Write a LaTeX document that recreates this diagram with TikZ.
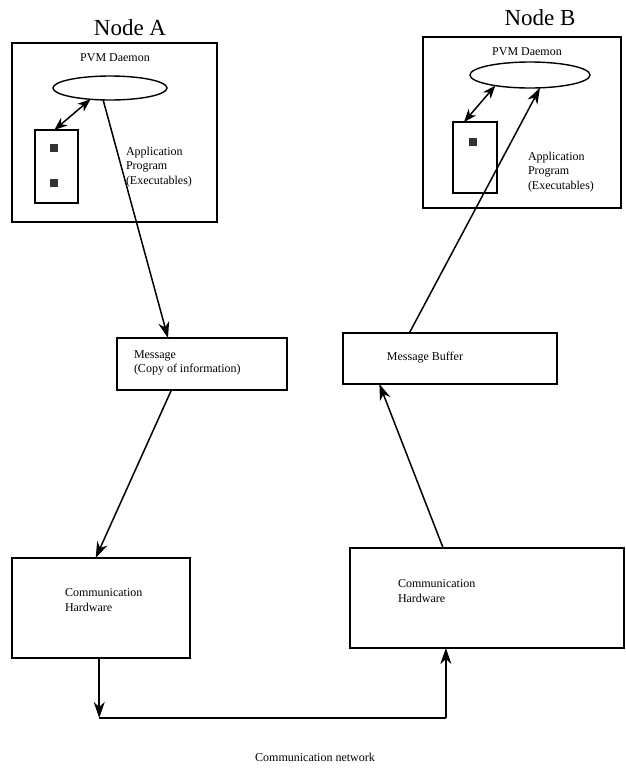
\documentclass[tikz,border=0pt]{standalone}
\usepackage{fontspec}
\setmainfont{Liberation Serif}
\usetikzlibrary{arrows.meta,shapes.geometric,calc}

\begin{document}
\begin{tikzpicture}[x=1pt,y=-1pt,line width=1.4pt,
  every node/.style={inner sep=0pt,outer sep=0pt},
  frame/.style={draw,rectangle,line width=1.4pt},
  daemon/.style={draw,ellipse,line width=1.4pt},
  chip/.style={fill=black!80,minimum width=8pt,minimum height=8pt},
  lbl/.style={font=\fontsize{12}{14.5}\selectfont,align=left},
  title/.style={font=\fontsize{23}{27}\selectfont},
  arr/.style={-{Stealth[length=16pt,width=11pt,inset=5pt]},line width=1.5pt},
  darr/.style={{Stealth[length=13pt,width=10pt,inset=4pt]}-{Stealth[length=13pt,width=10pt,inset=4pt]},line width=1.5pt}]
\useasboundingbox (0,0) rectangle (626,772);

% ---- node A ----
\node[title] (labA) at (130,28) {Node A};
\node[frame,minimum width=205pt,minimum height=179pt] (boxA) at (114.5,132.5) {};
\node[lbl] (pvmA) at (115,58) {PVM Daemon};
\node[daemon,minimum width=114pt,minimum height=24pt] (elA) at (110,88) {};
\node[frame,minimum width=43pt,minimum height=73pt] (rectA) at (56.5,166.5) {};
\node[chip] (chA1) at (54,148) {};
\node[chip] (chA2) at (54,183) {};
\node[lbl,anchor=north west] (appA) at (126,147) {Application\\Program\\(Executables)};

% ---- node B ----
\node[title] (labB) at (540,18) {Node B};
\node[frame,minimum width=198pt,minimum height=171pt] (boxB) at (522,122.5) {};
\node[lbl] (pvmB) at (527,52) {PVM Daemon};
\node[daemon,minimum width=120pt,minimum height=26pt] (elB) at (530,75) {};
\node[frame,minimum width=44pt,minimum height=71pt] (rectB) at (475,157.5) {};
\node[chip] (chB1) at (473,142) {};
\node[lbl,anchor=north west] (appB) at (528,152) {Application\\Program\\(Executables)};

% ---- message buffers ----
\node[frame,minimum width=170pt,minimum height=52pt] (msgA) at (202,364) {};
\node[lbl,anchor=west] (msgAt) at (134,363) {Message\\(Copy of information)};
\node[frame,minimum width=214pt,minimum height=51pt] (msgB) at (450,358.5) {};
\node[lbl] (msgBt) at (425,358) {Message Buffer};

% ---- communication hardware ----
\node[frame,minimum width=178pt,minimum height=100pt] (hwA) at (101,608) {};
\node[lbl,anchor=north west] (hwAt) at (65,589) {Communication\\Hardware};
\node[frame,minimum width=274pt,minimum height=100pt] (hwB) at (487,598) {};
\node[lbl,anchor=north west] (hwBt) at (398,580) {Communication\\Hardware};

\node[lbl] (net) at (315,757) {Communication network};

% ---- connectors ----
\draw[darr] (elA.210) -- ($(rectA.north west)!0.45!(rectA.north east)$);
\draw[arr] (elA.240) -- ($(msgA.north west)!0.3!(msgA.north east)$);
\draw[darr] (elB.197) -- ($(rectB.north west)!0.25!(rectB.north east)$);
\draw[arr] ($(msgB.north west)!0.31!(msgB.north east)$) -- (elB.308);

\draw[arr] ($(msgA.south west)!0.32!(msgA.south east)$) -- ($(hwA.north west)!0.47!(hwA.north east)$);
\draw[arr] ($(hwB.north west)!0.34!(hwB.north east)$) -- ($(msgB.south west)!0.17!(msgB.south east)$);

\coordinate (outA) at ($(hwA.south west)!0.49!(hwA.south east)$);
\coordinate (inB) at ($(hwB.south west)!0.35!(hwB.south east)$);
\coordinate (c1) at (outA |- 0,718);
\coordinate (c2) at (inB |- 0,718);
\draw[arr] (outA) -- (c1);
\draw (c1) -- (c2);
\draw[arr] (c2) -- (inB);
\end{tikzpicture}
\end{document}
